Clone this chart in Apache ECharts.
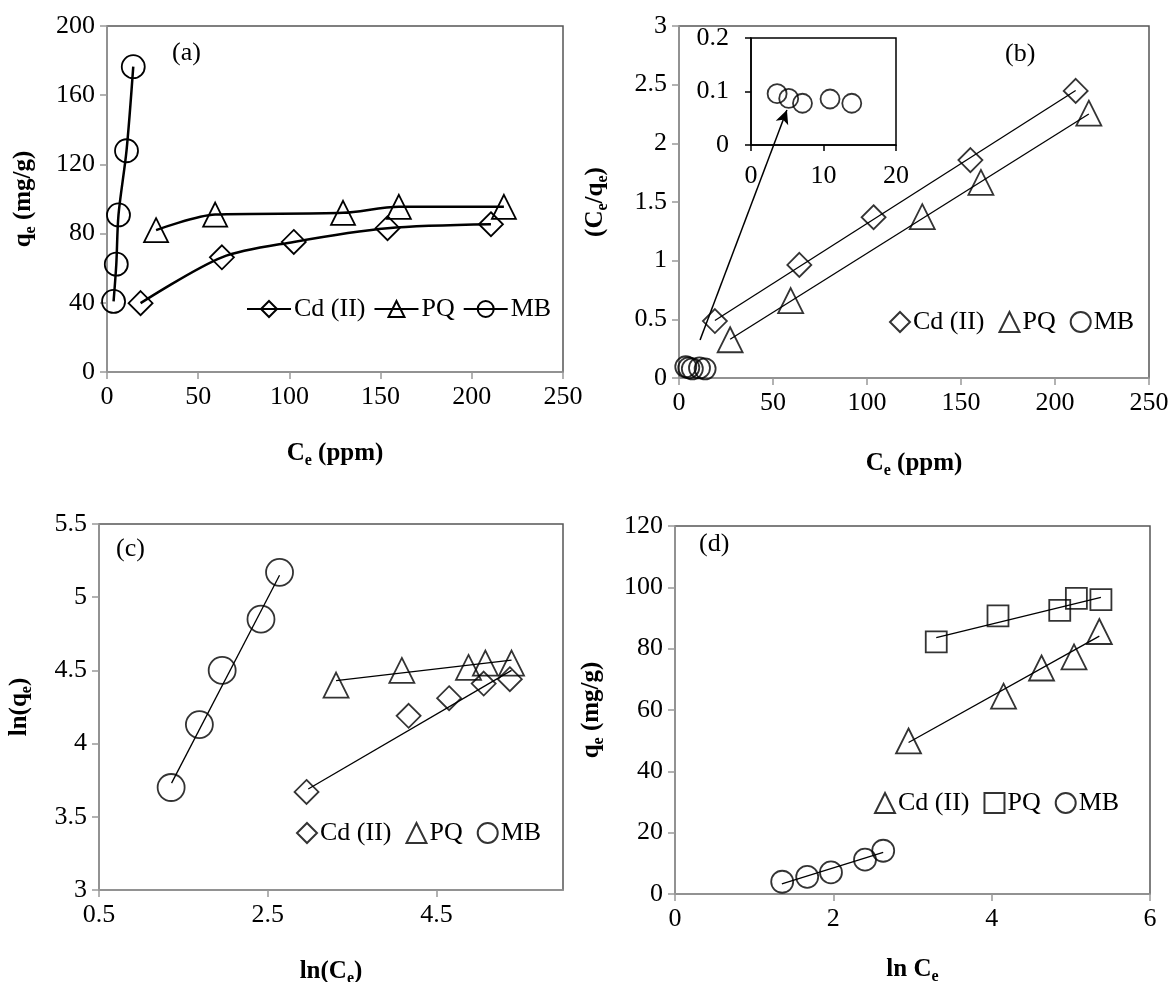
<!DOCTYPE html>
<html>
<head>
  <meta charset="utf-8">
</head>
<body style="margin: 0; background: #fff">
  <div id="container" style="width: 1171px; height: 982px"></div>
  <script src="https://cdn.jsdelivr.net/npm/echarts@6/dist/echarts.min.js"></script>
  <script>
    // values
    // (a) qe vs Ce
    var aCdCe = [18.4, 63, 102.4, 153.8, 210.5];
    var aCdQe = [39.8, 66.3, 75.2, 83.1, 85.4];
    var aPqCe = [26.9, 59.3, 129.4, 160, 217.6];
    var aPqQe = [82, 91, 92, 95.5, 95.5];
    var aMbCe = [3.6, 5.1, 6.3, 10.7, 14.4];
    var aMbQe = [40.8, 62.3, 90.8, 127.9, 176.5];

    // (b) Ce/qe vs Ce (Langmuir)
    var bCdCe = [19.1, 64, 103.5, 155, 211];
    var bCdRatio = [0.485, 0.964, 1.37, 1.857, 2.447];
    var bPqCe = [27.2, 59.4, 129.4, 160.6, 218];
    var bPqRatio = [0.326, 0.66, 1.375, 1.667, 2.257];
    var bMbCe = [3.6, 5.2, 7.1, 10.9, 13.9];
    var bMbRatio = [0.096, 0.087, 0.078, 0.086, 0.078];
    var bCdFit = [[19.1, 0.49], [211, 2.45]];
    var bPqFit = [[27.2, 0.33], [218, 2.25]];
    var bArrow = [[11.2, 0.324], [57.4, 2.285]];

    // (c) ln(qe) vs ln(Ce) (Freundlich)
    var cCdX = [2.96, 4.17, 4.65, 5.06, 5.37];
    var cCdY = [3.67, 4.19, 4.31, 4.41, 4.44];
    var cPqX = [3.31, 4.09, 4.88, 5.08, 5.39];
    var cPqY = [4.40, 4.50, 4.52, 4.55, 4.55];
    var cMbX = [1.355, 1.69, 1.96, 2.42, 2.64];
    var cMbY = [3.70, 4.13, 4.50, 4.85, 5.17];
    var cCdFit = [[2.98, 3.69], [5.39, 4.50]];
    var cPqFit = [[3.31, 4.43], [5.39, 4.57]];
    var cMbFit = [[1.36, 3.73], [2.64, 5.15]];

    // (d) qe vs ln Ce (Temkin)
    var dCdX = [2.95, 4.15, 4.63, 5.04, 5.36];
    var dCdY = [49.9, 64.5, 73.7, 77.3, 85.6];
    var dPqX = [3.30, 4.08, 4.86, 5.07, 5.38];
    var dPqY = [82.2, 90.7, 92.5, 96.4, 96.0];
    var dMbX = [1.354, 1.67, 1.97, 2.40, 2.63];
    var dMbY = [4.0, 5.6, 7.05, 11.2, 14.1];
    var dCdFit = [[2.95, 49.4], [5.36, 84.1]];
    var dPqFit = [[3.30, 83.6], [5.38, 96.7]];
    var dMbFit = [[1.35, 3.3], [2.63, 13.6]];

    var FONT = 'Liberation Serif';

    function pts(xs, ys) {
      return xs.map(function (x, i) { return [x, ys[i]]; });
    }

    var rich = {
      b: { fontFamily: FONT, fontWeight: 'bold', fontSize: 25, lineHeight: 30, color: '#000' },
      s: { fontFamily: FONT, fontWeight: 'bold', fontSize: 16, lineHeight: 16, verticalAlign: 'bottom', color: '#000' }
    };

    function axis(grid, min, max, interval, name, gap, extra) {
      var a = {
        type: 'value',
        gridIndex: grid,
        min: min,
        max: max,
        interval: interval,
        name: name,
        nameLocation: 'middle',
        nameGap: gap,
        nameTextStyle: { rich: rich },
        axisLine: { show: true, onZero: false, lineStyle: { color: '#999', width: 1.5 } },
        axisTick: { show: true, length: 7, lineStyle: { color: '#999', width: 1.5 } },
        axisLabel: { color: '#000', fontFamily: FONT, fontSize: 26, margin: 12 },
        splitLine: { show: false }
      };
      if (extra) Object.keys(extra).forEach(function (k) { a[k] = extra[k]; });
      return a;
    }

    var open = { color: 'rgba(0,0,0,0)', borderColor: '#000', borderWidth: 1.8 };

    function marks(name, x, y, xi, yi, symbol, size) {
      return {
        type: 'scatter', name: name, xAxisIndex: xi, yAxisIndex: yi,
        symbol: symbol, symbolSize: size, itemStyle: open,
        data: pts(x, y), z: 3
      };
    }

    function fit(line, xi, yi) {
      return {
        type: 'line', xAxisIndex: xi, yAxisIndex: yi, data: line,
        symbol: 'none', lineStyle: { color: '#000', width: 1.3 }, z: 2
      };
    }

    function curve(name, x, y, symbol, size) {
      return {
        type: 'line', name: name, xAxisIndex: 0, yAxisIndex: 0,
        data: pts(x, y), smooth: 0.3,
        symbol: symbol, symbolSize: size, showAllSymbol: true,
        itemStyle: open, lineStyle: { color: '#000', width: 2.5 }
      };
    }

    function legend(names, left, top, w, h, gap) {
      return {
        data: names, left: left, top: top, itemWidth: w, itemHeight: h, itemGap: gap,
        formatter: function (n) { return n.split('#')[0]; },
        textStyle: { color: '#000', fontFamily: FONT, fontSize: 26, padding: [0, 0, 0, -2] },
        selectedMode: false
      };
    }

    var border = { show: true, borderColor: '#555', borderWidth: 1.5, backgroundColor: 'transparent', containLabel: false, outerBoundsMode: 'none' };
    function grid(l, t, w, h, b) {
      return Object.assign({}, b || border, { left: l, top: t, width: w, height: h });
    }

    var insetLine = {
      axisLine: { show: true, onZero: false, lineStyle: { color: '#000', width: 1.5 } },
      axisTick: { show: true, length: 6, lineStyle: { color: '#000', width: 1.5 } }
    };

    var option = {
      animation: false,
      grid: [
        grid(107, 26, 456, 346),
        grid(679, 26, 470, 352),
        grid(99, 524, 464, 366),
        grid(675, 526, 475, 368),
        grid(751, 38, 145, 107, { show: true, borderColor: '#000', borderWidth: 1.5, backgroundColor: 'transparent', containLabel: false, outerBoundsMode: 'none' })
      ],
      xAxis: [
        axis(0, 0, 250, 50, '{b|C}{s|e}{b| (ppm)}', 67),
        axis(1, 0, 250, 50, '{b|C}{s|e}{b| (ppm)}', 71),
        axis(2, 0.5, 6, 2, '{b|ln(C}{s|e}{b|)}', 67),
        axis(3, 0, 6, 2, '{b|ln C}{s|e}', 61),
        axis(4, 0, 20, 10, '', 0, insetLine)
      ],
      yAxis: [
        axis(0, 0, 200, 40, '{b|q}{s|e}{b| (mg/g)}', 68),
        axis(1, 0, 3, 0.5, '{b|(C}{s|e}{b|/q}{s|e}{b|)}', 68),
        axis(2, 3, 5.5, 0.5, '{b|ln(q}{s|e}{b|)}', 64),
        axis(3, 0, 120, 20, '{b|q}{s|e}{b| (mg/g)}', 68),
        axis(4, 0, 0.2, 0.1, '', 0, insetLine)
      ],
      legend: [
        legend(['Cd (II)#a', 'PQ#a', 'MB#a'], 241, 291, 44, 20, 8),
        legend(['Cd (II)#b', 'PQ#b', 'MB#b'], 884, 304, 20, 20, 14),
        legend(['Cd (II)#c', 'PQ#c', 'MB#c'], 291, 815, 20, 20, 14),
        legend(['Cd (II)#d', 'PQ#d', 'MB#d'], 869, 785, 20, 20, 14)
      ],
      graphic: [
        { type: 'text', left: 172, top: 40, style: { text: '(a)', font: '26px "Liberation Serif"', fill: '#000' } },
        { type: 'text', left: 1005, top: 41, style: { text: '(b)', font: '26px "Liberation Serif"', fill: '#000' } },
        { type: 'text', left: 116, top: 536, style: { text: '(c)', font: '26px "Liberation Serif"', fill: '#000' } },
        { type: 'text', left: 699, top: 531, style: { text: '(d)', font: '26px "Liberation Serif"', fill: '#000' } }
      ],
      series: [
        curve('Cd (II)#a', aCdCe, aCdQe, 'diamond', 24),
        curve('PQ#a', aPqCe, aPqQe, 'triangle', 24),
        curve('MB#a', aMbCe, aMbQe, 'circle', 23),

        fit(bCdFit, 1, 1),
        fit(bPqFit, 1, 1),
        marks('Cd (II)#b', bCdCe, bCdRatio, 1, 1, 'diamond', 24),
        marks('PQ#b', bPqCe, bPqRatio, 1, 1, 'triangle', 25),
        Object.assign(marks('MB#b', bMbCe, bMbRatio, 1, 1, 'circle', 21), {
          markLine: {
            silent: true,
            symbol: ['none', 'arrow'],
            symbolSize: [10, 14],
            label: { show: false },
            lineStyle: { color: '#000', width: 1.5, type: 'solid' },
            data: [[{ coord: bArrow[0] }, { coord: bArrow[1] }]]
          }
        }),
        marks('MB inset', bMbCe, bMbRatio, 4, 4, 'circle', 19),

        fit(cCdFit, 2, 2),
        fit(cPqFit, 2, 2),
        fit(cMbFit, 2, 2),
        marks('Cd (II)#c', cCdX, cCdY, 2, 2, 'diamond', 24),
        marks('PQ#c', cPqX, cPqY, 2, 2, 'triangle', 25),
        marks('MB#c', cMbX, cMbY, 2, 2, 'circle', 27),

        fit(dCdFit, 3, 3),
        fit(dPqFit, 3, 3),
        fit(dMbFit, 3, 3),
        marks('Cd (II)#d', dCdX, dCdY, 3, 3, 'triangle', 25),
        marks('PQ#d', dPqX, dPqY, 3, 3, 'rect', 21),
        marks('MB#d', dMbX, dMbY, 3, 3, 'circle', 22)
      ]
    };

    // hide the extra end label on the ln(Ce) axis of (c)
    option.xAxis[2].axisLabel.showMaxLabel = false;
    // inset labels sit further from its axes
    option.xAxis[4].axisLabel.margin = 18;
    option.yAxis[4].axisLabel.margin = 22;

    var myChart = echarts.init(document.getElementById('container'), null, { renderer: 'canvas' });
    myChart.setOption(option);
  </script>
</body>
</html>
